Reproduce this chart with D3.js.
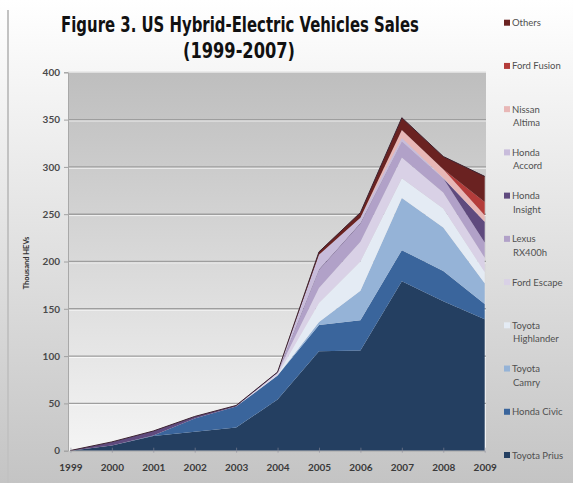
<!DOCTYPE html>
<html>
<head>
<meta charset="utf-8">
<script src="https://cdn.jsdelivr.net/npm/d3@7"></script>
<style>
  body { margin: 0; background: #fff; }
  svg { display: block; }
</style>
</head>
<body>
<script>
// thousand vehicles sold per year
var years = [1999, 2000, 2001, 2002, 2003, 2004, 2005, 2006, 2007, 2008, 2009];
var toyotaPrius      = [0, 5.5, 15.6, 20, 24.6, 54, 105, 106, 179, 158, 139];
var hondaCivic       = [0, 0, 0.5, 14, 22, 25.5, 28, 32, 33, 32, 16];
var toyotaCamry      = [0, 0, 0, 0, 0, 0, 3, 31, 55, 46, 22];
var toyotaHighlander = [0, 0, 0, 0, 0, 0.5, 20, 31, 21, 20, 12];
var fordEscape       = [0, 0, 0, 0, 0, 2.5, 16, 21, 22, 17, 15];
var lexusRX400h      = [0, 0, 0, 0, 0, 0, 19, 19, 17, 15, 16];
var hondaInsight     = [0.2, 3.8, 4.7, 2.2, 1.2, 0.6, 0.7, 0.7, 0, 0, 22];
var hondaAccord      = [0, 0, 0, 0, 0, 0, 15.5, 5.5, 3.5, 0.5, 0];
var nissanAltima     = [0, 0, 0, 0, 0, 0, 0, 0, 8.5, 9, 7];
var fordFusion       = [0, 0, 0, 0, 0, 0, 0, 0, 0, 0, 14];
var others           = [0, 0, 0, 0, 0, 0, 3, 5.5, 13, 13.5, 27];

// bottom of the stack first
var seriesNames = ["Toyota Prius", "Honda Civic", "Toyota Camry", "Toyota Highlander", "Ford Escape",
  "Lexus RX400h", "Honda Insight", "Honda Accord", "Nissan Altima", "Ford Fusion", "Others"];
var seriesValues = [toyotaPrius, hondaCivic, toyotaCamry, toyotaHighlander, fordEscape,
  lexusRX400h, hondaInsight, hondaAccord, nissanAltima, fordFusion, others];
// legend text, split over two lines the way the figure does it
var legendLines = [["Toyota Prius"], ["Honda Civic"], ["Toyota", "Camry"], ["Toyota", "Highlander"], ["Ford Escape"],
  ["Lexus", "RX400h"], ["Honda", "Insight"], ["Honda", "Accord"], ["Nissan", "Altima"], ["Ford Fusion"], ["Others"]];
var yTicks = [0, 50, 100, 150, 200, 250, 300, 350, 400];

var colors = ["#243f61", "#3a659c", "#95b3d7", "#e4ebf4", "#d9d1e6",
  "#b1a1c8", "#5f4a7e", "#c8bcdb", "#e8b7b6", "#b43c3a", "#6a2221"];

var width = 573, height = 483;
var plot = { left: 68, right: 486, top: 72.3, bottom: 450.7 };

var svg = d3.select("body")
  .append("svg")
    .attr("width", width)
    .attr("height", height);

var defs = svg.append("defs");
var bgGrad = defs.append("linearGradient").attr("id", "bgGrad")
  .attr("x1", 0).attr("y1", 0).attr("x2", 0).attr("y2", 1);
bgGrad.append("stop").attr("offset", "0%").attr("stop-color", "#ffffff");
bgGrad.append("stop").attr("offset", "100%").attr("stop-color", "#c4c4c4");

var plotGrad = defs.append("linearGradient").attr("id", "plotGrad")
  .attr("x1", 0).attr("y1", 0).attr("x2", 0).attr("y2", 1);
plotGrad.append("stop").attr("offset", "0%").attr("stop-color", "#bebebe");
plotGrad.append("stop").attr("offset", "100%").attr("stop-color", "#f4f4f4");

// chart background + left frame edge
svg.append("rect").attr("width", width).attr("height", height).attr("fill", "url(#bgGrad)");
svg.append("line")
  .attr("x1", 8).attr("x2", 8).attr("y1", 10).attr("y2", height)
  .attr("stroke", "#c2c2c2").attr("stroke-width", 2);

// title - squeeze each line horizontally to the width it has in the figure
function titleLine(txt, cx, cy, targetWidth) {
  var g = svg.append("g").attr("transform", "translate(" + cx + "," + cy + ")");
  var t = g.append("text")
    .attr("text-anchor", "middle")
    .style("font-family", "'Liberation Sans Narrow', 'DejaVu Sans Condensed', sans-serif")
    .style("font-weight", "bold").style("font-size", "22px").attr("fill", "#111")
    .text(txt);
  var len = t.node().getComputedTextLength();
  if (len > 0) t.attr("transform", "scale(" + (targetWidth / len) + ",1)");
}
titleLine("Figure 3. US Hybrid-Electric Vehicles Sales", 240, 32, 358);
titleLine("(1999-2007)", 239, 58, 112);

var x = d3.scaleLinear()
  .domain([d3.min(years), d3.max(years)])
  .range([70.4, 484.7]);

var y = d3.scaleLinear()
  .domain([0, 400])
  .range([plot.bottom, plot.top]);

// plot area
svg.append("rect")
  .attr("x", plot.left).attr("y", plot.top)
  .attr("width", plot.right - plot.left).attr("height", plot.bottom - plot.top)
  .attr("fill", "url(#plotGrad)");
svg.append("line")
  .attr("x1", plot.left).attr("x2", plot.right).attr("y1", plot.top).attr("y2", plot.top)
  .attr("stroke", "#dedede").attr("stroke-width", 1.5);

// gridlines (dark line with a light edge under it)
var gridTicks = yTicks.filter(function(d) { return d > 0 && d < 400; });
var grid = svg.append("g").attr("class", "grid");
grid.selectAll("line.dark")
  .data(gridTicks)
  .enter().append("line")
    .attr("class", "dark")
    .attr("x1", plot.left).attr("x2", plot.right)
    .attr("y1", function(d) { return y(d); }).attr("y2", function(d) { return y(d); })
    .attr("stroke", "#9e9e9e").attr("stroke-width", 1.4);
grid.selectAll("line.light")
  .data(gridTicks)
  .enter().append("line")
    .attr("class", "light")
    .attr("x1", plot.left).attr("x2", plot.right)
    .attr("y1", function(d) { return y(d) + 1.4; }).attr("y2", function(d) { return y(d) + 1.4; })
    .attr("stroke", "#ffffff").attr("stroke-opacity", 0.7).attr("stroke-width", 1);

// stacked areas
var table = years.map(function(yr, i) {
  var row = { year: yr };
  seriesNames.forEach(function(name, s) { row[name] = seriesValues[s][i]; });
  return row;
});

var stack = d3.stack().keys(seriesNames);
var layers = stack(table);

var area = d3.area()
  .x(function(d) { return x(d.data.year); })
  .y0(function(d) { return y(d[0]); })
  .y1(function(d) { return y(d[1]); });

svg.append("g").attr("class", "areas")
  .selectAll("path")
  .data(layers)
  .enter()
  .append("path")
    .attr("d", area)
    .attr("fill", function(d, i) { return colors[i]; });

// thin dark edge along the top of the whole stack
var topLine = d3.line()
  .x(function(d) { return x(d.data.year); })
  .y(function(d) { return y(d[1]); });
svg.append("path")
  .datum(layers[layers.length - 1])
  .attr("d", topLine)
  .attr("fill", "none")
  .attr("stroke", "#3b2230")
  .attr("stroke-width", 1);

// axes
var yAxis = d3.axisLeft(y).tickValues(yTicks).tickSize(4).tickPadding(4);
var yG = svg.append("g")
  .attr("class", "axis y")
  .attr("transform", "translate(" + plot.left + ",0)")
  .call(yAxis);
yG.select(".domain").attr("stroke", "#a8a8a8");
yG.selectAll(".tick line").attr("stroke", "#a0a0a0");
yG.selectAll("text")
  .style("font-family", "Lato, 'Open Sans', sans-serif")
  .style("font-size", "10px").style("font-weight", "bold")
  .attr("fill", "#4a4a4a");

var xAxis = d3.axisBottom(x).tickValues(years).tickFormat(d3.format("d")).tickSize(0).tickPadding(13);
var xG = svg.append("g")
  .attr("class", "axis x")
  .attr("transform", "translate(0," + plot.bottom + ")")
  .call(xAxis);
xG.select(".domain").attr("stroke", "#b0b0b0");
xG.selectAll("text")
  .style("font-family", "Lato, 'Open Sans', sans-serif")
  .style("font-size", "10px").style("font-weight", "bold")
  .attr("fill", "#3a3a3a");
xG.selectAll(".tick").append("line")
  .attr("y1", -3).attr("y2", 2)
  .attr("stroke", "#8a8a9a").attr("stroke-opacity", 0.6);

svg.append("text")
  .attr("transform", "translate(29,263) rotate(-90)")
  .attr("text-anchor", "middle")
  .style("font-family", "Lato, 'Open Sans', sans-serif")
  .style("font-size", "7.5px").style("font-weight", "bold")
  .attr("fill", "#333")
  .text("Thousand HEVs");

// legend, top entry is the top of the stack
var legendY = d3.scaleLinear().domain([0, 10]).range([22.7, 455]);
var legend = svg.append("g").attr("class", "legend")
  .selectAll("g")
  .data(seriesNames.map(function(n, i) { return i; }).reverse())
  .enter()
  .append("g")
    .attr("transform", function(d, k) { return "translate(504," + legendY(k) + ")"; });

legend.append("rect")
  .attr("x", 0).attr("y", -3)
  .attr("width", 6).attr("height", 6)
  .attr("fill", function(i) { return colors[i]; });

// one text element per line
legend.selectAll("text")
  .data(function(i) { return legendLines[i]; })
  .enter()
  .append("text")
    .attr("x", function(line, j) { return j === 0 ? 8 : 9; })
    .attr("y", function(line, j) { return 3.5 + j * 13.5; })
    .style("font-family", "Lato, 'Open Sans', sans-serif")
    .style("font-size", "9.5px")
    .attr("fill", "#505050")
    .text(function(line) { return line; });
</script>
</body>
</html>
